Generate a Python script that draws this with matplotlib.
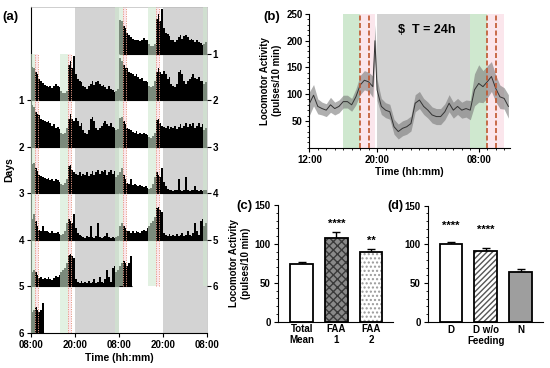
import matplotlib
matplotlib.use("Agg")
import matplotlib.pyplot as plt
from matplotlib.patches import Rectangle
from matplotlib.ticker import MultipleLocator
import numpy as np

plt.rcParams['font.family'] = ['Liberation Sans', 'DejaVu Sans']
plt.rcParams['font.weight'] = 'bold'
plt.rcParams['axes.labelweight'] = 'bold'
plt.rcParams['font.size'] = 7

# ---------------- data ----------------
# (a) actogram: activity (pulses/10 min) in 30-min bins starting at 08:00
day1 = [180,175,150,138,112,100,90,80,75,70,75,65,75,85,75,70,50,38,38,50,188,212,175,238,
        138,112,105,95,75,70,62,75,88,100,80,95,100,88,75,80,70,62,75,62,55,45,50,62]
day2 = [225,212,188,175,170,150,145,138,130,138,125,112,120,100,105,95,75,70,75,100,150,175,150,138,
        155,138,112,125,88,75,70,88,150,162,138,100,88,100,112,125,138,120,112,125,105,100,88,95]
day3 = [155,162,138,120,100,95,88,80,75,82,70,75,68,75,70,62,50,45,55,75,145,150,125,112,
        105,100,112,95,105,100,112,95,105,120,100,112,125,105,120,112,125,100,112,125,105,120,88,100]
day4 = [112,138,100,75,55,50,75,45,50,42,38,45,38,35,40,30,25,30,50,88,112,100,88,138,
        62,38,25,20,15,12,20,15,75,15,12,18,88,15,12,15,20,38,15,12,15,12,15,20]
day5 = [75,88,75,62,45,50,38,45,38,50,40,35,45,55,50,62,75,88,100,125,170,175,162,150,
        38,25,20,30,20,25,18,30,20,25,38,20,25,50,25,20,38,88,50,25,100,112,75,88]
day6 = [112,125,138,125,112,125,162]
days = [day1, day2, day3, day4, day5, day6]
act_xticklabels = ['08:00', '20:00', '08:00', '20:00', '08:00']
day_labels = ['1', '2', '3', '4', '5', '6']

# (b) mean daily profile (hours after 12:00)
b_time = [0,0.5,1,1.5,2,2.5,3,3.5,4,4.5,5,5.5,6,6.5,7,7.5,7.75,8,8.5,9,9.5,10,10.5,11,11.5,12,
          12.5,13,13.5,14,14.5,15,15.5,16,16.5,17,17.5,18,18.5,19,19.5,20,20.5,21,21.5,22,22.5,23,23.5]
b_mean = [82,98,77,73,70,80,73,77,86,86,80,95,117,126,123,114,200,108,77,70,67,39,30,36,39,45,
          83,89,77,70,61,58,58,67,83,70,77,70,73,70,108,120,114,123,133,111,95,92,77]
b_sem = [22,20,14,12,12,14,12,12,12,12,12,15,18,18,18,20,30,20,15,14,14,14,14,14,14,14,
         16,16,15,15,15,15,15,15,16,15,15,15,16,18,30,35,30,30,28,25,22,20,22]
b_xticklabels = ['12:00', '20:00', '08:00']

# (c)
c_cats = ['Total\nMean', 'FAA\n1', 'FAA\n2']
c_vals = [74, 107, 89]
c_err = [3, 8, 4]
c_stars = ['', '****', '**']

# (d)
d_cats = ['D', 'D w/o\nFeeding', 'N']
d_vals = [100, 92, 65]
d_err = [3, 4, 3]
d_stars = ['****', '****', '']

GRAY = '#d3d3d3'
GREEN = '#cfe8cf'
PINK = '#fbe6ec'
RED = '#c0562e'

fig = plt.figure(figsize=(5.5, 3.68), dpi=100)

# ---------------- (a) ----------------
ax = fig.add_axes([0.0564, 0.0951, 0.32, 0.886])
ax.set_xlim(0, 48)
ax.set_ylim(0, 7)
for o in (0, 24):
    ax.axvspan(o + 12, o + 24, color=GRAY, lw=0, zorder=0)

def mark_half(base, o, full=True):
    segs = [(0, 1), (8, 10), (23, 24)] if full else [(23, 24)]
    for a, b in segs:
        ax.add_patch(Rectangle((o + a, base), b - a, 1, color=GREEN, alpha=0.6, lw=0, zorder=3))
    if full:
        for a, b in [(1, 2), (10, 11)]:
            ax.add_patch(Rectangle((o + a, base), b - a, 1, color=PINK, lw=0, zorder=1))
            ax.vlines([o + a, o + b], base, base + 1, colors='#e49a86', lw=0.7,
                      linestyles=(0, (1.2, 1.2)), zorder=4)

for r in range(7):
    base = 6 - r
    for o, d in ((0, r), (24, r + 1)):
        if 1 <= d <= 6:
            vals = np.array(days[d - 1]) / 250.0
            edges = o + np.arange(len(vals) + 1) * 0.5
            ax.stairs(vals + base, edges, baseline=base, fill=True, color='black', lw=0, zorder=2)
            ax.hlines(base, edges[0], edges[-1], color='black', lw=0.8, zorder=2)
            mark_half(base, o, True)
        elif d == 0:
            mark_half(base, o, False)

ax.set_xticks([0, 12, 24, 36, 48])
ax.set_xticklabels(act_xticklabels)
ax.set_yticks([5, 4, 3, 2, 1, 0])
ax.set_yticklabels(day_labels)
ax.tick_params(length=3, width=0.8, labelsize=7, pad=2)
for s in ('top', 'right'):
    ax.spines[s].set_color('#bbbbbb')
    ax.spines[s].set_linewidth(0.5)
ax.spines['left'].set_linewidth(0.8)
ax.spines['bottom'].set_linewidth(0.8)
ax.set_xlabel('Time (hh:mm)', fontsize=7.5, labelpad=2)
ax.set_ylabel('Days', fontsize=7.5, labelpad=3)
ax2 = ax.twinx()
ax2.set_ylim(0, 7)
ax2.set_yticks([6, 5, 4, 3, 2, 1])
ax2.set_yticklabels(day_labels)
ax2.tick_params(length=3, width=0.8, labelsize=7, pad=1)
for s in ax2.spines.values():
    s.set_visible(False)
fig.text(0.004, 0.955, '(a)', fontsize=9.5, weight='bold', va='center')

# ---------------- (b) ----------------
bx = fig.add_axes([0.5624, 0.599, 0.365, 0.363])
bx.set_xlim(0, 23.7)
bx.set_ylim(0, 250)
bx.axvspan(4, 6, color=GREEN, lw=0, zorder=0)
bx.axvspan(8, 19, color=GRAY, lw=0, zorder=0)
bx.axvspan(19, 21, color=GREEN, lw=0, zorder=0)
bx.axvspan(6, 7.7, color=PINK, lw=0, zorder=0)
bx.axvspan(21, 23, color=PINK, lw=0, zorder=0)
t = np.array(b_time); m = np.array(b_mean); s = np.array(b_sem)
bx.fill_between(t, m - s, m + s, color='#7a7a7a', alpha=0.6, lw=0, zorder=2)
bx.plot(t, m, color='#333333', lw=0.7, zorder=3)
for xv in (6, 7, 21, 22):
    bx.axvline(xv, color=RED, lw=1.2, ls=(0, (3, 1.5)), zorder=4)
bx.set_xticks([0, 8, 20])
bx.set_xticklabels(b_xticklabels)
bx.xaxis.set_minor_locator(MultipleLocator(1))
bx.set_yticks([50, 100, 150, 200, 250])
bx.yaxis.set_minor_locator(MultipleLocator(10))
bx.tick_params(which='major', length=3, width=0.8, labelsize=7, pad=2)
bx.tick_params(which='minor', length=1.5, width=0.6)
for sp in ('top', 'right'):
    bx.spines[sp].set_visible(False)
bx.set_xlabel('Time (hh:mm)', fontsize=7.5, labelpad=2)
bx.set_ylabel('Locomotor Activity\n(pulses/10 min)', fontsize=7, labelpad=3, linespacing=1.2)
bx.text(0.44, 0.86, '$  T = 24h', transform=bx.transAxes, fontsize=9, weight='bold', zorder=5)
fig.text(0.478, 0.955, '(b)', fontsize=9.5, weight='bold', va='center')

# ---------------- (c) ----------------
cx = fig.add_axes([0.505, 0.1258, 0.2095, 0.317])
xc = np.arange(len(c_cats))
w = 0.655
cx.bar(xc[0], c_vals[0], w, color='white', edgecolor='black', lw=1.3, zorder=2)
cx.bar(xc[1], c_vals[1], w, color='#8a8a8a', edgecolor='#3a3a3a', hatch='xxxx', lw=0, zorder=2)
cx.bar(xc[2], c_vals[2], w, color='white', edgecolor='#9a9a9a', hatch='....', lw=0, zorder=2)
cx.bar(xc[1:], c_vals[1:], w, fill=False, edgecolor='black', lw=1.3, zorder=3)
cx.errorbar(xc, c_vals, yerr=[[0]*3, c_err], fmt='none', ecolor='black', elinewidth=1, capsize=3, capthick=1, zorder=1)
for xi, v, e, st in zip(xc, c_vals, c_err, c_stars):
    if st:
        cx.text(xi, v + e + 5, st, ha='center', va='bottom', fontsize=8, weight='bold')
cx.set_xlim(-0.69, 2.63)
cx.set_ylim(0, 150)
cx.set_xticks(xc)
cx.set_xticklabels(c_cats, linespacing=1.1)
cx.set_yticks([0, 50, 100, 150])
cx.yaxis.set_minor_locator(MultipleLocator(10))
cx.tick_params(which='major', length=3, width=0.8, labelsize=7, pad=2)
cx.tick_params(which='minor', length=1.5, width=0.6)
cx.tick_params(axis='x', length=0)
for sp in ('top', 'right'):
    cx.spines[sp].set_visible(False)
cx.set_ylabel('Locomotor Activity\n(pulses/10 min)', fontsize=7, labelpad=3, linespacing=1.2)
fig.text(0.43, 0.44, '(c)', fontsize=9.5, weight='bold', va='center')

# ---------------- (d) ----------------
dx = fig.add_axes([0.7776, 0.125, 0.2096, 0.316])
xd = np.arange(len(d_cats))
w = 0.66
dx.bar(xd[0], d_vals[0], w, color='white', edgecolor='black', lw=1.3, zorder=2)
dx.bar(xd[1], d_vals[1], w, color='white', edgecolor='#555555', hatch='//////', lw=0, zorder=2)
dx.bar(xd[1], d_vals[1], w, fill=False, edgecolor='black', lw=1.3, zorder=3)
dx.bar(xd[2], d_vals[2], w, color='#9e9e9e', edgecolor='black', lw=1.3, zorder=2)
dx.errorbar(xd, d_vals, yerr=[[0]*3, d_err], fmt='none', ecolor='black', elinewidth=1, capsize=3, capthick=1, zorder=1)
for xi, st, yv in zip(xd, d_stars, [117, 112, 0]):
    if st:
        dx.text(xi, yv, st, ha='center', va='bottom', fontsize=8, weight='bold')
dx.set_xlim(-0.67, 2.645)
dx.set_ylim(0, 150)
dx.set_xticks(xd)
dx.set_xticklabels(d_cats, linespacing=1.1)
dx.set_yticks([0, 50, 100, 150])
dx.yaxis.set_minor_locator(MultipleLocator(10))
dx.tick_params(which='major', length=3, width=0.8, labelsize=7, pad=2)
dx.tick_params(which='minor', length=1.5, width=0.6)
dx.tick_params(axis='x', length=0)
for sp in ('top', 'right'):
    dx.spines[sp].set_visible(False)
fig.text(0.705, 0.44, '(d)', fontsize=9, weight='bold', va='center')

fig.savefig('out.png', dpi=100)
